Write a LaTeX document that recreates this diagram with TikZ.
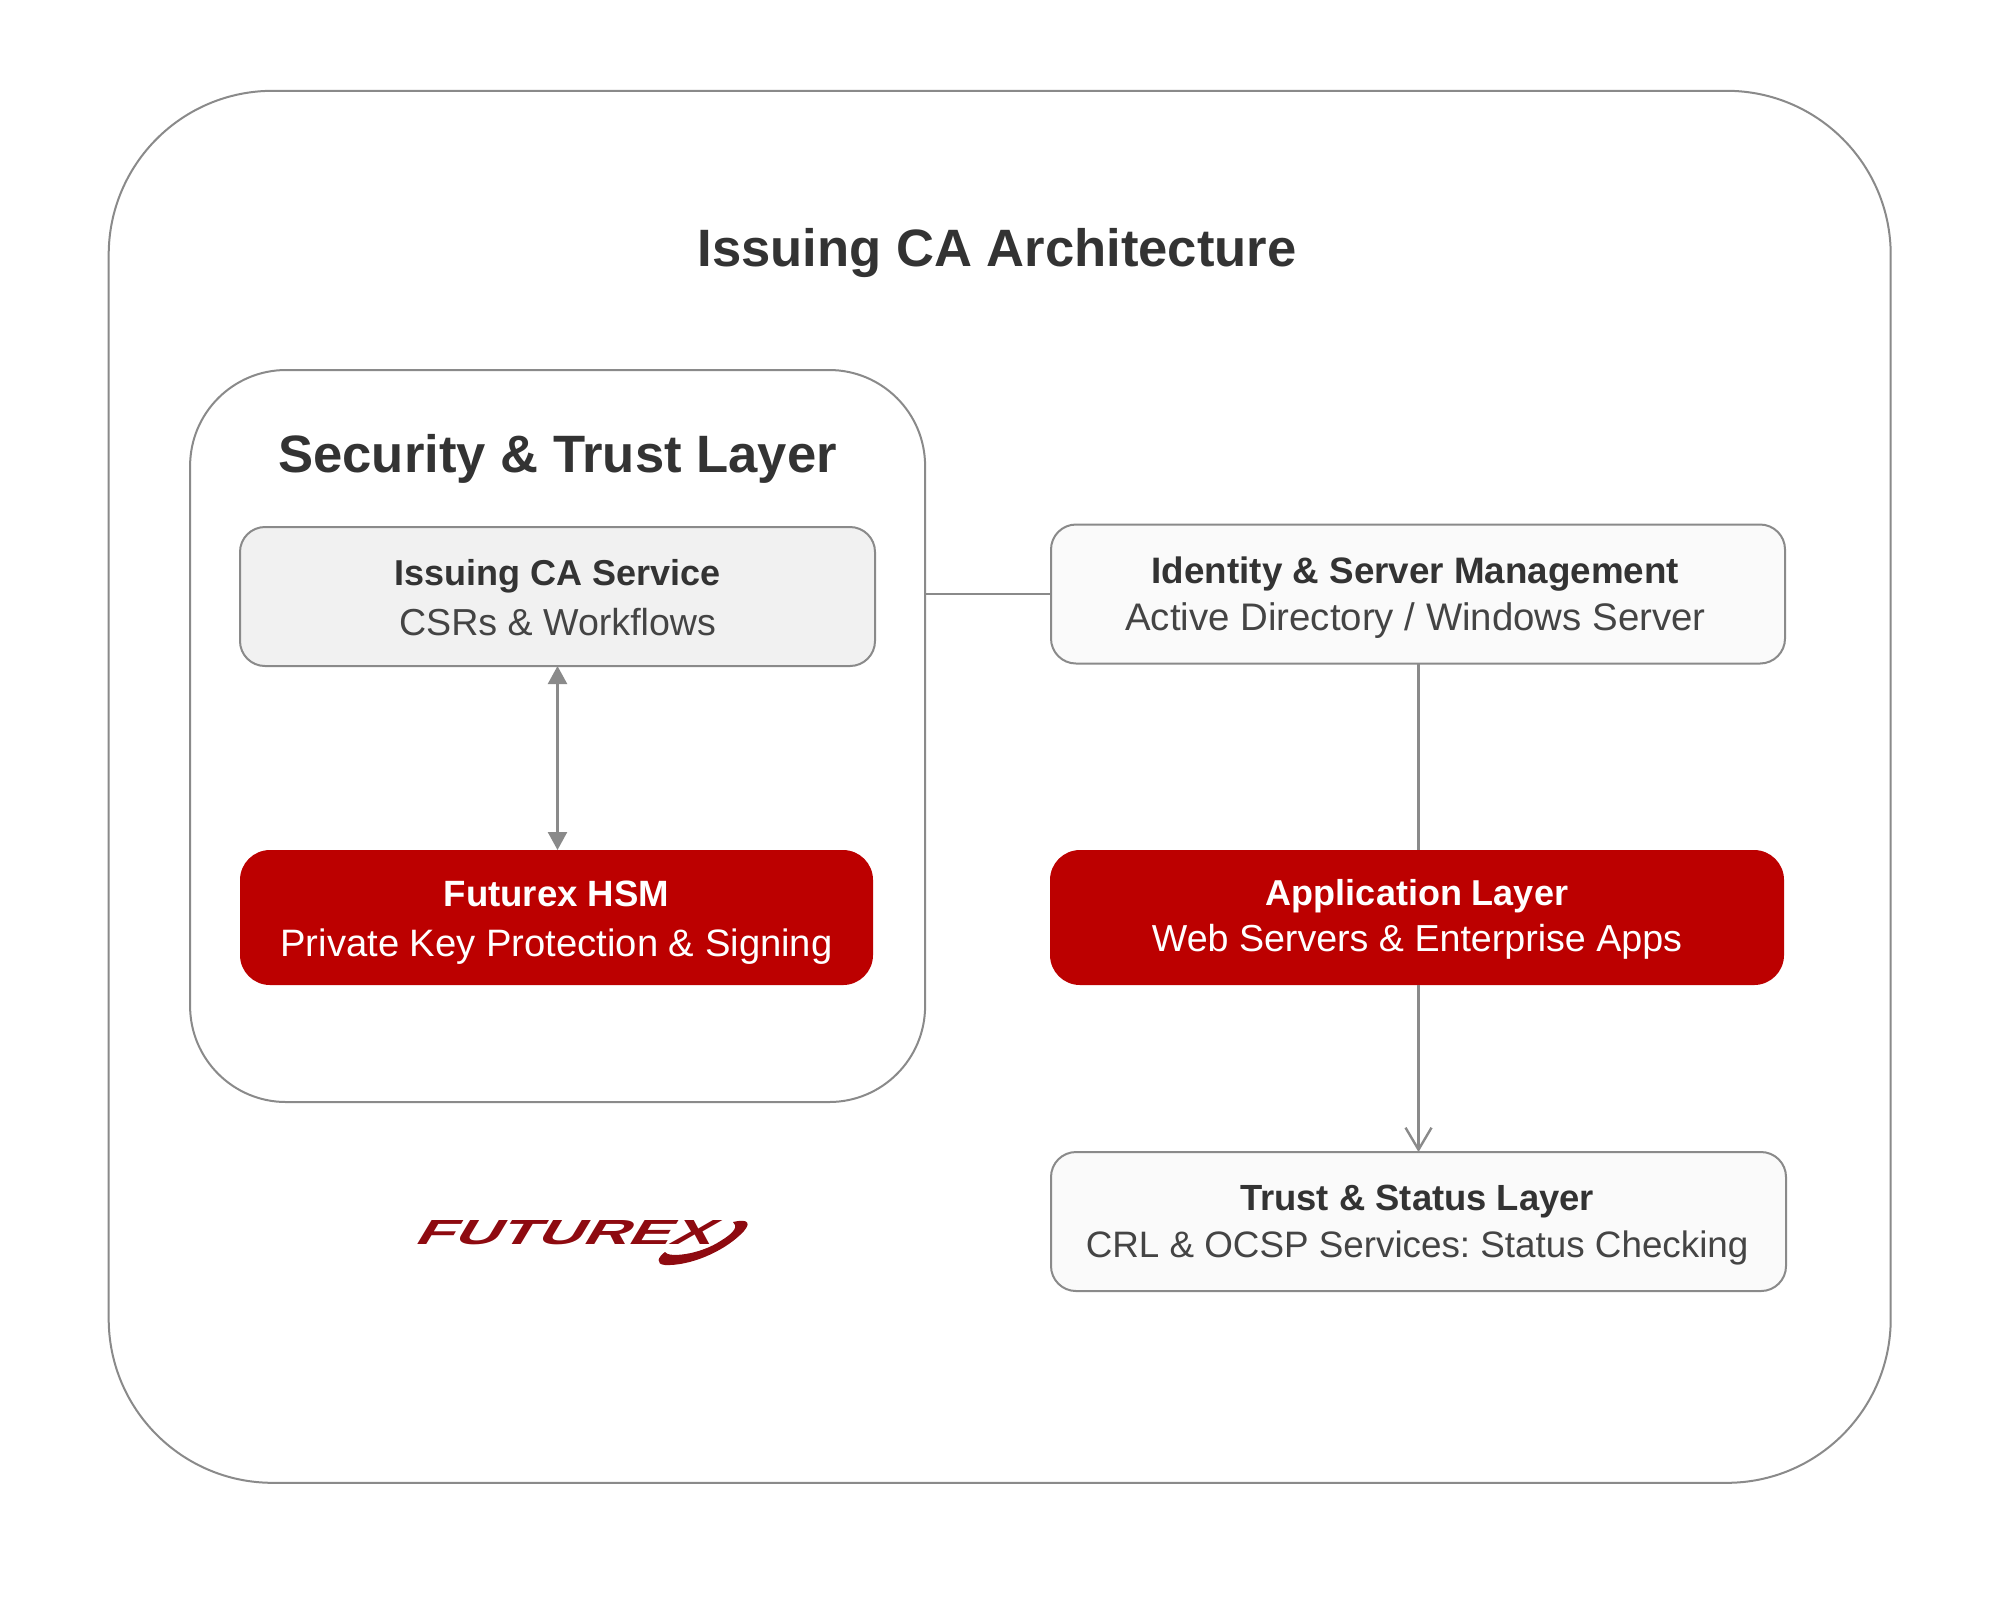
\documentclass[tikz,border=0pt]{standalone}
\usepackage{fontspec}
\usepackage{graphicx}
\setmainfont{Liberation Sans}
\usetikzlibrary{arrows.meta}
\frenchspacing
\definecolor{edge}{HTML}{8A8A8A}
\definecolor{ink}{HTML}{333333}
\definecolor{inksub}{HTML}{444444}
\definecolor{fxred}{HTML}{BC0000}
\definecolor{logored}{HTML}{8E0A10}
\newcommand{\hdline}[2]{{\fontsize{#1}{20}\selectfont\bfseries #2}}
\newcommand{\subline}[2]{{\fontsize{#1}{20}\selectfont #2}}
\tikzset{
  frame/.style={draw=edge,line width=1pt,fill=white,rectangle,outer sep=0pt,inner sep=0pt},
  whitebox/.style={frame,fill=#1,rounded corners=12.5pt,minimum height=69.5pt},
  redbox/.style={rectangle,outer sep=0pt,inner sep=0pt,fill=fxred,rounded corners=15pt,minimum height=67.5pt},
  wire/.style={draw=edge,line width=1.2pt},
  boxtext/.style={inner sep=0pt,align=center,font=\fontsize{18.5}{#1}\selectfont},
}
\begin{document}
\begin{tikzpicture}[x=0.5pt,y=-0.5pt]
\useasboundingbox (0,0) rectangle (2000,1603);
\fill[white] (0,0) rectangle (2000,1603);
\node[frame,rounded corners=82pt,minimum width=891pt,minimum height=696pt] (outer) at (999.7,786.8) {};
\node[font=\fontsize{26.3}{30}\selectfont\bfseries,text=ink] (title) at (997,252.6) {Issuing CA Architecture};
\node[frame,rounded corners=48pt,minimum width=367.5pt,minimum height=366pt] (inner) at (557.6,736) {};
\node[font=\fontsize{26.3}{30}\selectfont\bfseries,text=ink] (sectitle) at (557.6,459) {Security \& Trust Layer};
\node[whitebox=black!5.5,minimum width=317.5pt] (issuing) at (557.5,596.5) {};
\node[boxtext=25,text=ink] (issuingtext) at ([yshift=-0.65pt]issuing.center) {\hdline{18}{Issuing CA Service}\\{\color{inksub}\subline{18.8}{CSRs \& Workflows}}};
\node[redbox,minimum width=316.5pt] (hsm) at (556.5,917.5) {};
\node[boxtext=25,text=white] (hsmtext) at ([yshift=-2.55pt]hsm.center) {\hdline{18.3}{Futurex HSM}\\\subline{19.1}{Private Key Protection \& Signing}};
\node[whitebox=black!2,minimum width=367pt] (identity) at (1418,594) {};
\node[boxtext=23.5,text=ink] (identitytext) at ([xshift=-1.3pt,yshift=-1.9pt]identity.center) {\hdline{18.4}{Identity \& Server Management}\\{\color{inksub}\subline{19.2}{Active Directory / Windows Server}}};
\node[redbox,minimum width=367pt] (app) at (1417,917.5) {};
\node[boxtext=23,text=white] (apptext) at ([yshift=-1pt]app.center) {\hdline{18}{Application Layer}\\\subline{18.8}{Web Servers \& Enterprise Apps}};
\node[whitebox=black!2,minimum width=367.5pt] (trust) at (1418.5,1221.5) {};
\node[boxtext=23.5,text=ink] (trusttext) at ([xshift=-0.7pt,yshift=-1.9pt]trust.center) {\hdline{18.2}{Trust \& Status Layer}\\{\color{inksub}\subline{18.4}{CRL \& OCSP Services: Status Checking}}};
\draw[wire] (identity.west) -- (identity.west -| inner.east);
\draw[wire,{Triangle[length=9pt,width=9.5pt]}-{Triangle[length=9pt,width=9.5pt]}] (issuing.south) -- (issuing.south |- hsm.north);
\draw[wire] (identity.south -| trust.north) -- (trust.north |- app.north);
\draw[wire,-{Straight Barb[length=11pt,width=13pt]}] (trust.north |- app.south) -- (trust.north);
% logo
\node[inner sep=0pt,text=logored,xslant=0.6,transform shape] (logo) at (569,1233) {\resizebox{148pt}{12pt}{\bfseries FUTUREX}};
\fill[logored] (733,1222) .. controls (750,1218) and (752,1224) .. (740,1235) .. controls (722,1252) and (690,1266) .. (665,1265) .. controls (655,1264) and (658,1257) .. (665,1252) .. controls (668,1258) and (700,1255) .. (722,1240) .. controls (735,1232) and (738,1226) .. (733,1222) -- cycle;
\end{tikzpicture}
\end{document}
